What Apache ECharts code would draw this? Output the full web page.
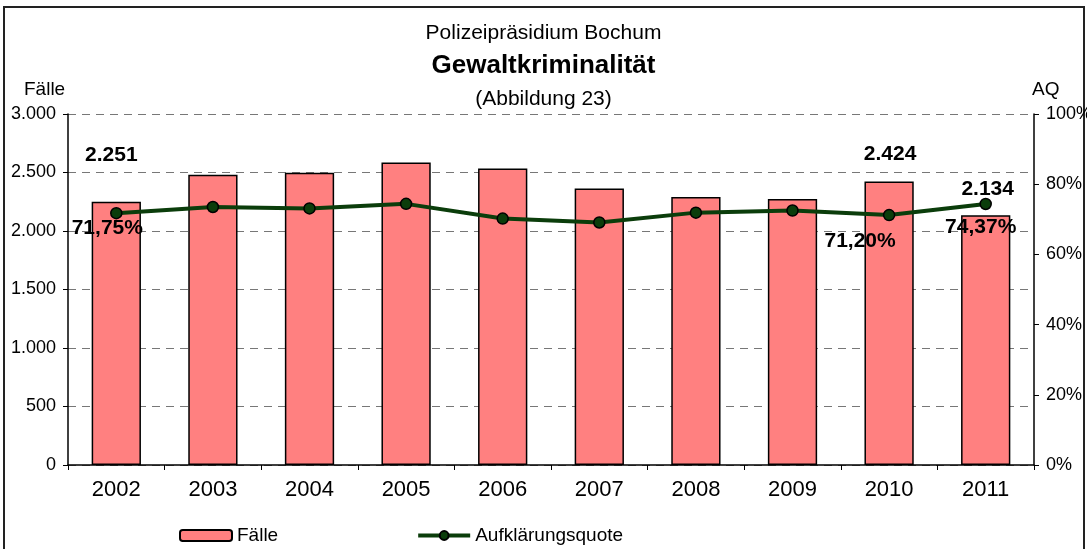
<!DOCTYPE html>
<html>
<head>
<meta charset="utf-8">
<script src="https://cdn.jsdelivr.net/npm/echarts@6/dist/echarts.min.js"></script>
<style>
  html, body { margin: 0; padding: 0; background: #fff; }
  #chart { width: 1087px; height: 549px; }
</style>
</head>
<body>
<div id="chart"></div>
<script>
// values
const years = ['2002', '2003', '2004', '2005', '2006', '2007', '2008', '2009', '2010', '2011'];
const faelle = [2251, 2480, 2497, 2585, 2534, 2363, 2291, 2274, 2424, 2134];
const quote = [71.75, 73.5, 73.1, 74.4, 70.2, 69.1, 71.9, 72.5, 71.20, 74.37];
const faelleTicks = ['0', '500', '1.000', '1.500', '2.000', '2.500', '3.000'];
const quoteTicks = ['0%', '20%', '40%', '60%', '80%', '100%'];

const FONT = '"Liberation Sans", Arial, sans-serif';

function fmtNum(v) {
  return String(Math.round(v)).replace(/\B(?=(\d{3})+(?!\d))/g, '.');
}
function fmtPct(v) {
  return v.toFixed(2).replace('.', ',') + '%';
}

// only a few points carry labels in the original
const barLabelOffsets = { 0: [-5, -31], 8: [1, -12], 9: [2, -11] };
const lineLabelOffsets = { 0: [-9, 15], 8: [-29, 26], 9: [-5, 23] };

const labelText = { fontFamily: FONT, fontSize: 21, fontWeight: 'bold', color: '#000' };

const barData = faelle.map((v, i) => {
  const off = barLabelOffsets[i];
  if (!off) return v;
  return { value: v, label: { show: true, position: 'top', offset: off, formatter: (p) => fmtNum(p.value), ...labelText } };
});
const lineData = quote.map((v, i) => {
  const off = lineLabelOffsets[i];
  if (!off) return v;
  return { value: v, label: { show: true, position: 'inside', offset: off, formatter: (p) => fmtPct(p.value), ...labelText } };
});

const chart = echarts.init(document.getElementById('chart'), null, { renderer: 'canvas' });
chart.setOption({
  animation: false,
  textStyle: { fontFamily: FONT },
  graphic: [
    { type: 'rect', shape: { x: 4, y: 7, width: 1080, height: 600 }, style: { fill: 'none', stroke: '#222', lineWidth: 2 }, silent: true },
    { type: 'text', left: 'center', top: 23, style: { text: 'Polizeipräsidium Bochum', font: '21px ' + FONT, fill: '#000' } },
    { type: 'text', left: 'center', top: 53, style: { text: 'Gewaltkriminalität', font: 'bold 26px ' + FONT, fill: '#000' } },
    { type: 'text', left: 'center', top: 89, style: { text: '(Abbildung 23)', font: '21px ' + FONT, fill: '#000' } },
    { type: 'text', left: 24, top: 80, style: { text: 'Fälle', font: '19px ' + FONT, fill: '#000' } },
    { type: 'text', left: 1032, top: 80, style: { text: 'AQ', font: '19px ' + FONT, fill: '#000' } }
  ],
  legend: {
    left: 174,
    top: 521,
    itemGap: 138,
    itemWidth: 52,
    itemHeight: 11,
    lineStyle: { width: 4 },
    textStyle: { fontFamily: FONT, fontSize: 19, color: '#000' },
    data: ['Fälle', 'Aufklärungsquote']
  },
  grid: { left: 68, right: 53, top: 114, bottom: 84, outerBoundsMode: 'none' },
  xAxis: {
    type: 'category',
    data: years,
    axisLine: { lineStyle: { color: '#000', width: 1.5 } },
    axisTick: { show: true, length: 5, lineStyle: { color: '#000' } },
    axisLabel: { fontFamily: FONT, fontSize: 22, color: '#000', margin: 14 }
  },
  yAxis: [
    {
      type: 'value',
      min: 0,
      max: 3000,
      interval: 500,
      axisLine: { show: true, lineStyle: { color: '#000', width: 1.5 } },
      axisTick: { show: true, length: 5, lineStyle: { color: '#000' } },
      axisLabel: { fontFamily: FONT, fontSize: 18, color: '#000', margin: 12, formatter: (v) => faelleTicks[v / 500] },
      splitLine: { show: true, lineStyle: { color: '#777', type: [8, 6], width: 1.2 } }
    },
    {
      type: 'value',
      min: 0,
      max: 100,
      interval: 20,
      position: 'right',
      axisLine: { show: true, lineStyle: { color: '#000', width: 1.5 } },
      axisTick: { show: true, length: 5, lineStyle: { color: '#000' } },
      axisLabel: { fontFamily: FONT, fontSize: 18, color: '#000', margin: 12, formatter: (v) => quoteTicks[v / 20] },
      splitLine: { show: false }
    }
  ],
  series: [
    {
      name: 'Fälle',
      type: 'bar',
      yAxisIndex: 0,
      barWidth: '51%',
      data: barData,
      itemStyle: { color: '#ff8080', borderColor: '#000', borderWidth: 1.5 }
    },
    {
      name: 'Aufklärungsquote',
      type: 'line',
      yAxisIndex: 1,
      data: lineData,
      symbol: 'circle',
      symbolSize: 11,
      lineStyle: { color: '#0b3d0b', width: 4 },
      itemStyle: { color: '#0b3d0b', borderColor: '#000', borderWidth: 1.5 },
      z: 5
    }
  ]
});
</script>
</body>
</html>
